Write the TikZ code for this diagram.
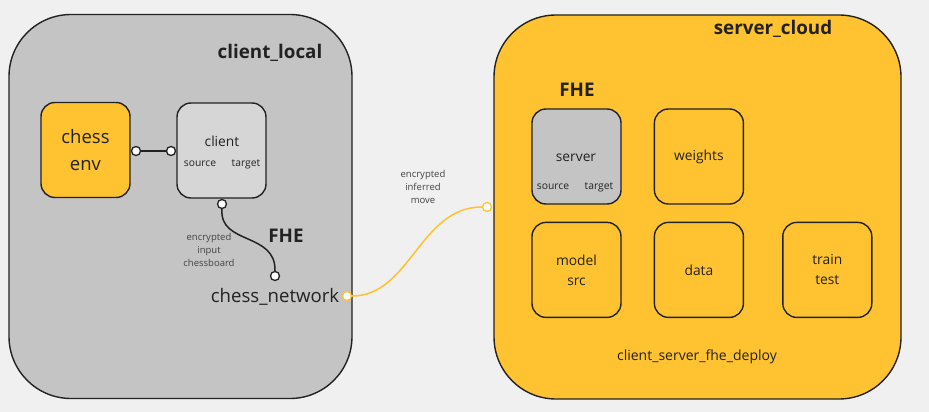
\documentclass[tikz,border=0pt]{standalone}
\usepackage{fontspec}
\setmainfont{Open Sans}
\usepackage{xcolor}
\usetikzlibrary{positioning, calc}

\definecolor{canvas}{HTML}{F0F0F0}
\definecolor{boxgray}{HTML}{C4C4C4}
\definecolor{lightgray}{HTML}{D6D6D6}
\definecolor{gold}{HTML}{FFC231}
\definecolor{ink}{HTML}{222222}

\begin{document}
\begin{tikzpicture}[
    x=1pt, y=-1pt,
    node distance=17pt and 32pt,
    zone/.style={
        rectangle,
        draw=ink,
        fill=#1,
        line width=1.4pt,
        rounded corners=62pt,
        minimum width=343pt,
        minimum height=384pt,
        inner sep=0pt
    },
    unit_node/.style={
        rectangle,
        draw=ink,
        fill=#1,
        line width=1.4pt,
        rounded corners=14pt,
        minimum width=89pt,
        minimum height=95pt,
        align=center,
        inner sep=0pt,
        text=ink,
        font=\fontsize{13.8}{20}\selectfont
    },
    port/.style={
        circle,
        draw=#1,
        fill=white,
        line width=1.3pt,
        minimum size=9pt,
        inner sep=0pt
    },
    zone_title/.style={
        font=\fontsize{18.8}{22}\selectfont\bfseries,
        text=ink
    },
    small_text/.style={
        font=\fontsize{9.5}{13}\selectfont,
        text=ink!85,
        align=center
    },
    port_text/.style={
        font=\fontsize{10.3}{12}\selectfont,
        text=ink
    },
    link/.style={
        line width=1.5pt,
        color=#1
    }
]

    % Canvas
    \fill[canvas] (0,0) rectangle (929,412);
    \useasboundingbox (0,0) rectangle (929,412);

    % Zones
    \node (local) [zone=boxgray] at (180.5,206.5) {};
    \node (cloud) [zone=gold, minimum width=407pt] at (697.5,207) {};
    \node [zone_title] at (270,53) {client\_local};
    \node [zone_title] at (773,29) {server\_cloud};

    % client_local nodes
    \node (env) [unit_node=gold, font=\fontsize{18.5}{27}\selectfont] at (85.5,150) {chess\\env};
    \node (client) [unit_node=lightgray] at (221.5,150.5) {};
    \node [font=\fontsize{13.8}{16}\selectfont, text=ink] at (222,141) {client};
    \node [port_text] at (200,164) {source};
    \node [port_text] at (246,164) {target};

    \node (fhe_a) [zone_title] at (286,236) {FHE};
    \node (net) [font=\fontsize{18.6}{22}\selectfont, text=ink] at (275,297) {chess\_network};
    \node [small_text] at (209,250) {encrypted\\input\\chessboard};

    % server_cloud nodes
    \node (fhe_b) [zone_title] at (577,90) {FHE};
    \node (server) [unit_node=boxgray] at (576.5,156.5) {};
    \node [font=\fontsize{13.8}{16}\selectfont, text=ink] at (576,158) {server};
    \node [port_text] at (553,187) {source};
    \node [port_text] at (599,187) {target};
    \node (weights) [unit_node=gold, right=of server] {weights};
    \node (model) [unit_node=gold, below=of server] {model\\src};
    \node (data) [unit_node=gold, below=of weights] {data};
    \node (train) [unit_node=gold, right=38pt of data] {train\\test};
    \node [font=\fontsize{14}{16}\selectfont, text=ink] at (697,357) {client\_server\_fhe\_deploy};

    % Ports
    \node (p_env) [port=ink] at (136,151) {};
    \node (p_cli) [port=ink] at (171,151) {};
    \node (p_down) [port=ink] at (222,204) {};
    \node (p_net) [port=ink] at (275,276) {};
    \node (p_out) [port=gold] at (347,296) {};
    \node (p_in) [port=gold] at (487,207) {};

    % Connections
    \draw [link=ink] (p_env) -- (p_cli);
    \draw [link=ink] (p_down.south) .. controls (219,245) and (276,232) .. (p_net.north);
    \draw [link=gold] (p_out.east) .. controls (410,296) and (420,207) .. (p_in.west);
    \node [small_text] at (423,187) {encrypted\\inferred\\move};

\end{tikzpicture}
\end{document}
